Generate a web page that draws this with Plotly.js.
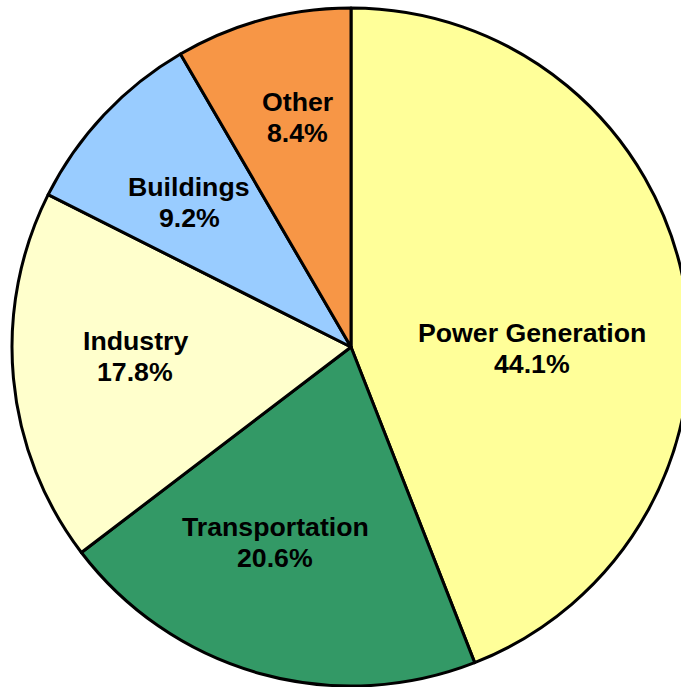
<!DOCTYPE html>
<html>
<head>
<meta charset="utf-8">
<script src="https://cdn.plot.ly/plotly-3.0.1.min.js"></script>
<style>
html,body{margin:0;padding:0;overflow:hidden;background:#fff;width:681px;height:687px;}
#chart{width:690px;height:687px;}
</style>
</head>
<body>
<div id="chart"></div>
<script>
const categories = ["Power Generation", "Transportation", "Industry", "Buildings", "Other"];
const shares = [44.1, 20.6, 17.8, 9.2, 8.4];
const colors = ["#FFFF99", "#339966", "#FFFFCC", "#99CCFF", "#F79646"];

// label anchor positions in pixels (layout only): [x, y of first line]
const labelPix = [[532, 333], [275, 527], [135, 341], [189, 187], [297, 102]];
const lineGap = 31;

const W = 690, H = 687;
const M = {l: 12, r: 0, t: 8, b: 1};
const pw = W - M.l - M.r, ph = H - M.t - M.b;
const toX = px => (px - M.l) / pw;
const toY = py => (H - M.b - py) / ph;

const trace = {
  type: "pie",
  labels: categories,
  values: shares,
  sort: false,
  direction: "clockwise",
  rotation: 0,
  marker: {colors: colors, line: {color: "#000000", width: 3}},
  textinfo: "none",
  hoverinfo: "none",
  showlegend: false
};

const font = {family: "Liberation Sans, Arial, sans-serif", size: 26.7, color: "#000000"};
const annotations = [];
categories.forEach((c, i) => {
  const [px, py] = labelPix[i];
  annotations.push({xref: "paper", yref: "paper", x: toX(px), y: toY(py), xanchor: "center", yanchor: "middle",
    text: "<b>" + c + "</b>", showarrow: false, font: font});
  annotations.push({xref: "paper", yref: "paper", x: toX(px), y: toY(py + lineGap), xanchor: "center", yanchor: "middle",
    text: "<b>" + shares[i].toFixed(1) + "%</b>", showarrow: false, font: font});
});

const layout = {
  width: W,
  height: H,
  margin: {l: M.l, r: M.r, t: M.t, b: M.b, pad: 0},
  paper_bgcolor: "#ffffff",
  showlegend: false,
  annotations: annotations
};

Plotly.newPlot("chart", [trace], layout, {displayModeBar: false, staticPlot: true});
</script>
</body>
</html>
